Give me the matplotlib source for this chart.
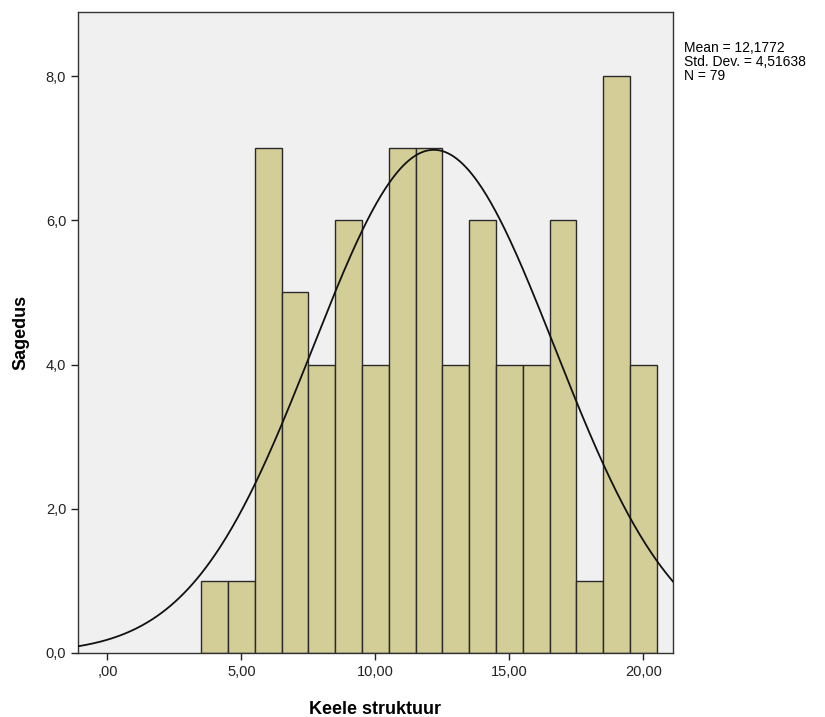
import matplotlib.pyplot as plt
import numpy as np

# histogram data (bin width 1)
bin_left = [3.5, 4.5, 5.5, 6.5, 7.5, 8.5, 9.5, 10.5, 11.5, 12.5,
            13.5, 14.5, 15.5, 16.5, 17.5, 18.5, 19.5]
counts = [1, 1, 7, 5, 4, 6, 4, 7, 7, 4, 6, 4, 4, 6, 1, 8, 4]
mean = 12.1772
std = 4.51638
n = 79
bin_width = 1.0

x_ticks = [0, 5, 10, 15, 20]
x_tick_labels = [",00", "5,00", "10,00", "15,00", "20,00"]
y_ticks = [0, 2, 4, 6, 8]
y_tick_labels = ["0,0", "2,0", "4,0", "6,0", "8,0"]

plt.rcParams['font.family'] = ['Liberation Sans', 'DejaVu Sans']

fig = plt.figure(figsize=(8.25, 7.17), dpi=100)
ax = fig.add_axes([0.0945, 0.0893, 0.7212, 0.894])
ax.set_facecolor('#f0f0f0')

ax.bar(bin_left, counts, width=bin_width, align='edge', color='#d3ce97',
       edgecolor='#2a2a2a', linewidth=1.0, zorder=2)

# fitted normal curve from the stated mean / std dev
xs = np.linspace(-1.1, 21.1, 400)
ys = n * bin_width / (std * np.sqrt(2 * np.pi)) * np.exp(-0.5 * ((xs - mean) / std) ** 2)
ax.plot(xs, ys, color='#111111', linewidth=1.3, zorder=3)

ax.set_xlim(-1.1, 21.1)
ax.set_ylim(0, 8.89)
ax.set_xticks(x_ticks)
ax.set_xticklabels(x_tick_labels)
ax.set_yticks(y_ticks)
ax.set_yticklabels(y_tick_labels)
ax.tick_params(direction='out', length=5, width=1, labelsize=10.5, colors='#222222')
for s in ax.spines.values():
    s.set_color('#333333')
    s.set_linewidth(1.0)

ax.set_xlabel("Keele struktuur", fontsize=13, fontweight='bold', labelpad=16)
ax.set_ylabel("Sagedus", fontsize=13, fontweight='bold', labelpad=12)

fig.text(0.829, 0.943, "Mean = 12,1772\nStd. Dev. = 4,51638\nN = 79",
         fontsize=10, va='top', ha='left', linespacing=1.0)

fig.savefig("out.png", dpi=100, facecolor='white')
